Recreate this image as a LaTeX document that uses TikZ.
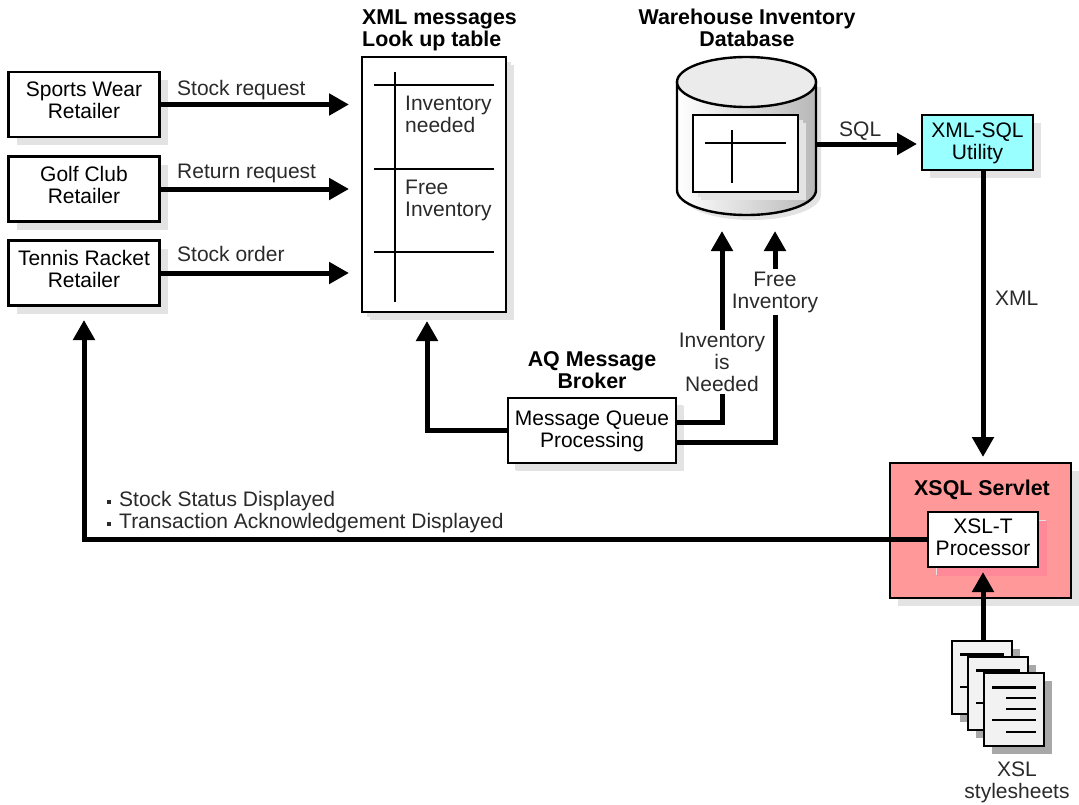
\documentclass[tikz,border=0pt]{standalone}
\usepackage{fontspec}
\setmainfont{Liberation Sans}
\usetikzlibrary{positioning}
\usetikzlibrary{arrows.meta}
\usetikzlibrary{shadows}
\definecolor{softshade}{HTML}{E3E3E3}
\definecolor{docshade}{HTML}{A8A8A8}
\definecolor{sqlcyan}{HTML}{99FFFF}
\definecolor{servletred}{HTML}{FF9999}
\definecolor{procshade}{HTML}{FF8899}
\definecolor{docgray}{HTML}{F2F2F2}
\definecolor{labelgray}{HTML}{2A2A2A}
\newcommand{\labelfont}{\fontsize{21}{21.6}\selectfont}
\newcommand{\boxfont}{\fontsize{21}{22}\selectfont}
\newcommand{\titlefont}{\fontsize{21.4}{21.6}\selectfont\bfseries}
\tikzset{
  box/.style={draw=black, line width=2.4pt, fill=white, align=center, inner sep=0pt,
    font=\boxfont, text depth=7.8pt, general shadow={shadow xshift=8pt, shadow yshift=-8pt, fill=softshade}},
  flow/.style={line width=5pt, -{Triangle[length=20pt,width=21pt]}},
  lbl/.style={font=\labelfont, text=labelgray, inner sep=0pt, align=center},
  lblfill/.style={lbl, fill=white, inner xsep=1pt, inner ysep=3pt},
  title/.style={font=\titlefont, inner sep=0pt, align=center},
  docpage/.style={draw=black, line width=1.6pt, fill=docgray, inner sep=0pt,
    minimum width=60pt, minimum height=73pt,
    general shadow={shadow xshift=8pt, shadow yshift=-8pt, fill=docshade}},
  rowline/.style={line width=2.4pt},
  thinrow/.style={line width=1.2pt},
  headrow/.style={line width=3pt}
}
\begin{document}
\begin{tikzpicture}[x=1pt,y=-1pt]
\useasboundingbox (0,0) rectangle (1079,804);

% retailers
\node[box, minimum width=151pt, minimum height=65pt] (sports) at (84,104.5) {Sports Wear\\Retailer};
\node[box, minimum width=151pt, minimum height=65pt] (golf) at (84,189) {Golf Club\\Retailer};
\node[box, minimum width=151pt, minimum height=65pt] (tennis) at (84,273) {Tennis Racket\\Retailer};

% look up table
\node[box, minimum width=144pt, minimum height=255pt, general shadow={shadow xshift=5pt, shadow yshift=-5pt, fill=softshade}] (lookup) at (434,184.5) {};
\draw[rowline] (374,85) -- (494,85);
\draw[rowline] (374,169) -- (494,169);
\draw[rowline] (374,252) -- (494,252);
\draw[rowline] (395,72) -- (395,302);
\node[lbl, align=left, anchor=base west] (needed) at (405,132) {Inventory\\needed};
\node[lbl, align=left, anchor=base west] (freetab) at (405,216) {Free\\Inventory};
\node[title, align=left, anchor=base west] (lookuptitle) at (362,46) {XML messages\\Look up table};

% database
\fill[softshade] (682,87) -- (682,195) arc[start angle=180, end angle=360, x radius=69.5pt, y radius=25pt] -- (821,87) -- cycle;
\shade[left color=white, right color=black!28, draw=black, line width=2.4pt] (677,82) -- (677,190)
  arc[start angle=180, end angle=360, x radius=69.5pt, y radius=25pt] -- (816,82) -- cycle;
\draw[line width=2.4pt, fill=black!8] (746.5,82) ellipse[x radius=69.5pt, y radius=25pt];
\node[box, minimum width=105pt, minimum height=77pt, general shadow={shadow xshift=5pt, shadow yshift=-5pt, fill=softshade}] (dbtable) at (745.5,153.5) {};
\draw[rowline] (705,143) -- (786,143);
\draw[rowline] (732,130) -- (732,183);
\node[title, anchor=base] (dbtitle) at (747,46) {Warehouse Inventory\\Database};
\coordinate (dbside) at (816,144);
\coordinate (needin) at (722,231);
\coordinate (freein) at (775,231);

% utility, servlet
\node[box, fill=sqlcyan, text depth=3pt, minimum width=111pt, minimum height=55pt] (utility) at (977.5,142.5) {XML-SQL\\Utility};
\node[box, fill=servletred, minimum width=181pt, minimum height=135pt] (servlet) at (980.5,530.5) {};
\node[title, anchor=base] (servlettitle) at (982,495) {XSQL Servlet};
\node[box, text depth=4pt, minimum width=110pt, minimum height=55pt, general shadow={shadow xshift=9pt, shadow yshift=-9pt, fill=procshade}] (processor) at (983,539.5) {XSL-T\\Processor};

% stylesheets
\node[docpage] (doca) at (982,677.5) {};
\draw[headrow] (960,654) -- (1004,654);
\draw[thinrow] (960,687) -- (967,687);
\node[docpage] (docb) at (998,693.5) {};
\draw[headrow] (976,670) -- (1020,670);
\draw[thinrow] (976,703) -- (983,703);
\node[docpage] (docc) at (1014,709.5) {};
\draw[headrow] (992,687) -- (1036,687);
\draw[thinrow] (1006,698) -- (1036,698);
\draw[thinrow] (1006,709) -- (1036,709);
\draw[thinrow] (992,720) -- (1036,720);
\draw[thinrow] (1006,732) -- (1036,732);
\node[lbl, anchor=base] (xsllabel) at (1017,798) {XSL\\stylesheets};

% message broker
\node[box, text depth=3.5pt, minimum width=168pt, minimum height=65pt, general shadow={shadow xshift=7pt, shadow yshift=-7pt, fill=softshade}] (queue) at (592,430.5) {Message Queue\\Processing};
\node[title, anchor=base] (brokertitle) at (592,388) {AQ Message\\Broker};

% connectors
\coordinate (lookupa) at (349,104.5);
\coordinate (lookupb) at (349,189);
\coordinate (lookupc) at (349,273);
\coordinate (lookupin) at (427,321);
\coordinate (retailin) at (84,320);
\coordinate (xsqltop) at (983,457);
\coordinate (procin) at (983,572);
\coordinate (utilin) at (917,144);
\draw[flow] (sports.east) -- (lookupa);
\draw[flow] (golf.east) -- (lookupb);
\draw[flow] (tennis.east) -- (lookupc);
\draw[flow] (dbside) -- (utilin);
\draw[flow] (utility.south -| xsqltop) -- (xsqltop);
\draw[flow] (doca.north -| procin) -- (procin);
\draw[flow] (queue.west) -| (lookupin);
\draw[flow] (processor.west) -| (retailin);
\draw[flow] ([yshift=8.5pt]queue.east) -| (needin);
\draw[flow] ([yshift=-11.5pt]queue.east) -| (freein);

% labels
\node[lbl, anchor=base west] (reqlabel) at (177,95) {Stock request};
\node[lbl, anchor=base west] (retlabel) at (177,178) {Return request};
\node[lbl, anchor=base west] (ordlabel) at (177,261) {Stock order};
\node[lbl, anchor=base west] (sqllabel) at (839,136) {SQL};
\node[lbl, anchor=base west] (xmllabel) at (995,305) {XML};
\node[lblfill, anchor=base] (needlabel) at (722,391) {Inventory\\is\\Needed};
\node[lblfill, anchor=base] (freelabel) at (775,308) {Free\\Inventory};
\node[lbl, align=left, anchor=base west] (statuslabel) at (107,528) {\rule[2.5pt]{3.5pt}{3.5pt}\hspace{8.5pt}Stock Status Displayed\\\rule[2.5pt]{3.5pt}{3.5pt}\hspace{8.5pt}Transaction Acknowledgement Displayed};
\end{tikzpicture}
\end{document}
